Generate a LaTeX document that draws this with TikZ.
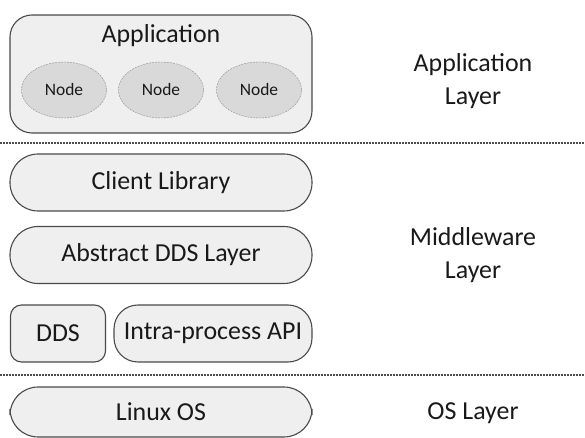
\documentclass[tikz,border=0pt]{standalone}
\usepackage{fontspec}
\setmainfont{Carlito}
\usetikzlibrary{shapes.geometric}
\definecolor{boxfill}{HTML}{EFEFEF}
\definecolor{nodefill}{HTML}{D9D9D9}
\definecolor{boxline}{HTML}{4A4A4A}
\tikzset{
	layerbox/.style={draw=boxline, fill=boxfill, line width=1.1bp, rectangle, rounded corners=28bp, inner sep=0pt, minimum width=302bp, minimum height=57bp, font=\fontsize{26}{30}\selectfont, text=black!90},
	rosnode/.style={draw=black!45, dashed, dash pattern=on 2bp off 1bp, fill=nodefill, ellipse, inner sep=0pt, minimum width=85bp, minimum height=56bp, font=\fontsize{17.5}{20}\selectfont, text=black!90},
	layername/.style={align=center, font=\fontsize{26}{33}\selectfont, text=black!90},
	separator/.style={draw=black!70, line width=1.2bp, dash pattern=on 1.5bp off 1.5bp}
}
\begin{document}
\begin{tikzpicture}[x=1bp, y=-1bp]
	\useasboundingbox (0,0) rectangle (585,438);
	\node[layerbox, rounded corners=22bp, minimum height=118bp] (Application) at (161, 74) {};
	\node[font=\fontsize{26}{30}\selectfont, text=black!90] (Application Name) at (161, 36) {Application};
	\node[rosnode] (Node A) at (64, 90) {Node};
	\node[rosnode] (Node B) at (161, 90) {Node};
	\node[rosnode] (Node C) at (259, 90) {Node};
	\node[layerbox] (Client Library) at (161, 182.5) {Client Library};
	\node[layerbox] (Abstract DDS Layer) at (161, 255) {Abstract DDS Layer};
	\node[layerbox, rounded corners=11bp, minimum width=95bp] (DDS) at (58, 333.5) {DDS};
	\node[layerbox, rounded corners=24bp, minimum width=198bp] (Intra-process API) at (213, 333.5) {Intra-process API};
	\node[layerbox, minimum height=50bp] (Linux OS) at (161, 412) {Linux OS};
	\node[layername] (Application Layer) at (473, 81) {Application\\Layer};
	\node[layername] (Middleware Layer) at (473, 255) {Middleware\\Layer};
	\node[layername] (OS Layer) at (473, 413) {OS Layer};
	\coordinate (Upper Left) at (0, 143);
	\coordinate (Upper Right) at (585, 143);
	\coordinate (Lower Left) at (0, 375);
	\coordinate (Lower Right) at (585, 375);
	\draw[separator] (Upper Left) -- (Upper Right);
	\draw[separator] (Lower Left) -- (Lower Right);
\end{tikzpicture}
\end{document}
